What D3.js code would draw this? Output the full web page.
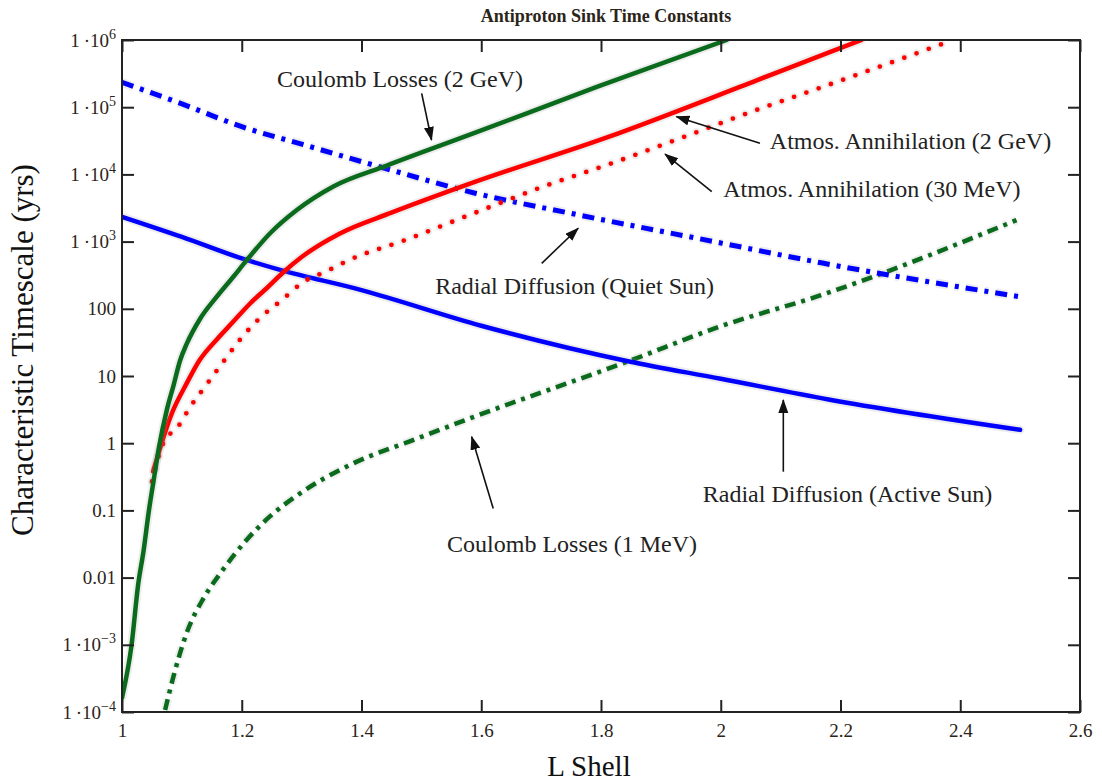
<!DOCTYPE html>
<html lang="en">
<head>
<meta charset="UTF-8">
<title>Antiproton Sink Time Constants</title>
<script src="https://d3js.org/d3.v7.min.js"></script>
<style>
  body { margin: 0; background: #fff; }
  svg text { font-family: "Liberation Serif", "DejaVu Serif", serif; }
  .tick text { font-size: 19px; fill: #2b2418; }
  .tick line { stroke: #222; stroke-width: 2px; }
  .note { font-size: 24px; fill: #222; }
</style>
</head>
<body>
<svg id="chart" width="1102" height="782"></svg>
<script>
// timescales in years vs L shell
const lActive = [1.0, 1.1, 1.2, 1.264, 1.4, 1.6, 1.845, 2.0, 2.18, 2.5];
const tActive = [2340, 1175, 562, 380, 190, 56, 16.6, 9.1, 4.47, 1.58];

const lQuiet = [1.0, 1.1, 1.2, 1.3, 1.43, 1.59, 1.75, 2.0, 2.17, 2.5];
const tQuiet = [234000, 112000, 51300, 28200, 13000, 5250, 2630, 955, 479, 151];

const lCoul2GeV = [1.0, 1.016, 1.027, 1.036, 1.045, 1.052, 1.062, 1.075, 1.086, 1.097, 1.108, 1.13, 1.158, 1.186, 1.208, 1.247, 1.292, 1.353, 1.442, 1.59, 1.793, 2.01];
const tCoul2GeV = [1.62e-4, 1.0e-3, 7.9e-3, 0.025, 0.1, 0.25, 0.89, 3.16, 7.2, 17, 30, 70, 150, 300, 525, 1320, 2950, 6610, 13500, 41700, 200000, 1e6];

const lAtm2GeV = [1.052, 1.083, 1.108, 1.13, 1.158, 1.186, 1.214, 1.242, 1.269, 1.30, 1.364, 1.45, 1.587, 1.81, 2.06, 2.182, 2.235];
const tAtm2GeV = [0.38, 2.75, 7.76, 17.4, 34.7, 64.6, 120, 204, 347, 589, 1320, 2690, 7590, 35500, 251000, 661000, 1e6];

const lAtm30MeV = [1.05, 1.069, 1.094, 1.114, 1.141, 1.169, 1.197, 1.23, 1.267, 1.303, 1.342, 1.378, 1.475, 1.587, 1.698, 1.826, 1.921, 2.06, 2.17, 2.388];
const tAtm30MeV = [0.269, 1.0, 1.78, 3.47, 7.41, 16.2, 34.7, 72.4, 135, 251, 363, 525, 1070, 2630, 6310, 15500, 31600, 91200, 200000, 1e6];

const lCoul1MeV = [1.072, 1.086, 1.108, 1.136, 1.164, 1.208, 1.247, 1.297, 1.386, 1.487, 1.59, 1.846, 2.0, 2.166, 2.494];
const tCoul1MeV = [1.07e-4, 3.39e-4, 1.5e-3, 4.9e-3, 0.0115, 0.0363, 0.0813, 0.178, 0.5, 1.12, 2.51, 16.6, 55, 158, 2090];

const xTicks = [1, 1.2, 1.4, 1.6, 1.8, 2, 2.2, 2.4, 2.6];
const xTickLabels = ["1", "1.2", "1.4", "1.6", "1.8", "2", "2.2", "2.4", "2.6"];
const yTicks = [1e-4, 1e-3, 0.01, 0.1, 1, 10, 100, 1e3, 1e4, 1e5, 1e6];
const yTickLabels = ["1\u2009·10^\u22124", "1\u2009·10^\u22123", "0.01", "0.1", "1", "10", "100",
                     "1\u2009·10^3", "1\u2009·10^4", "1\u2009·10^5", "1\u2009·10^6"];

// annotation text / arrow positions in data units [L, yrs]
const noteText = ["Coulomb Losses (2 GeV)", "Atmos. Annihilation (2 GeV)", "Atmos. Annihilation (30 MeV)",
                  "Radial Diffusion (Quiet Sun)", "Radial Diffusion (Active Sun)", "Coulomb Losses (1 MeV)"];
const noteAt = [[1.259, 2.0e5], [2.082, 23900], [2.004, 4610], [1.523, 166], [1.970, 0.133], [1.543, 0.024]];
const arrowFrom = [[1.5005, 1.61e5], [2.0655, 29000], [1.985, 5530], [1.701, 475], [2.1045, 0.377], [1.620, 0.107]];
const arrowTo = [[1.517, 32500], [1.926, 72300], [1.907, 20100], [1.762, 1580], [2.1045, 4.4], [1.584, 1.25]];

const svg = d3.select("#chart");
const plotLeft = 122, plotRight = 1080, plotTop = 40, plotBottom = 712;

const x = d3.scaleLinear().domain([1, 2.6]).range([plotLeft, plotRight]);
const y = d3.scaleLog().domain([1e-4, 1e6]).range([plotBottom, plotTop]);

svg.append("rect").attr("width", 1102).attr("height", 782).attr("fill", "#fff");

const defs = svg.append("defs");
defs.append("clipPath").attr("id", "plot")
    .append("rect").attr("x", plotLeft).attr("y", plotTop)
    .attr("width", plotRight - plotLeft).attr("height", plotBottom - plotTop);

const marker = defs.append("marker")
    .attr("id", "head")
    .attr("markerUnits", "userSpaceOnUse")
    .attr("markerWidth", 14).attr("markerHeight", 12)
    .attr("refX", 13).attr("refY", 5)
    .attr("orient", "auto");
marker.append("path").attr("d", "M0,0 L14,5 L0,10 Z").attr("fill", "#111");

const series = [
    { l: lCoul1MeV, t: tCoul1MeV, color: "#0b6b1d", width: 4.5, dash: "11,6,4,6", cap: "butt" },
    { l: lQuiet, t: tQuiet, color: "#0000ff", width: 5, dash: "12,7,4,7", cap: "butt" },
    { l: lActive, t: tActive, color: "#0000ff", width: 4.5, dash: null, cap: "round" },
    { l: lAtm30MeV, t: tAtm30MeV, color: "#ff0000", width: 4.8, dash: "0,13", cap: "round" },
    { l: lAtm2GeV, t: tAtm2GeV, color: "#ff0000", width: 4.5, dash: null, cap: "round" },
    { l: lCoul2GeV, t: tCoul2GeV, color: "#0b6b1d", width: 4.5, dash: null, cap: "round" }
];

const line = d3.line()
    .x(d => x(d[0]))
    .y(d => y(d[1]))
    .curve(d3.curveMonotoneX);

const plot = svg.append("g").attr("clip-path", "url(#plot)");

series.forEach(s => {
    const pts = s.l.map((v, i) => [v, s.t[i]]);
    // soft grey halo like the original screenshot
    plot.append("path")
        .attr("d", line(pts))
        .attr("fill", "none")
        .attr("stroke", "#999")
        .attr("stroke-opacity", 0.18)
        .attr("stroke-width", s.width + 4)
        .attr("stroke-dasharray", s.dash)
        .attr("stroke-linecap", s.cap);
    plot.append("path")
        .attr("d", line(pts))
        .attr("fill", "none")
        .attr("stroke", s.color)
        .attr("stroke-width", s.width)
        .attr("stroke-dasharray", s.dash)
        .attr("stroke-linecap", s.cap);
});

// frame and inward ticks on all sides
svg.append("g").attr("transform", `translate(0,${plotBottom})`)
    .call(d3.axisBottom(x).tickValues(xTicks).tickFormat((d, i) => xTickLabels[i])
        .tickSizeInner(-12).tickSizeOuter(0).tickPadding(12))
    .call(g => g.select(".domain").remove());

svg.append("g").attr("transform", `translate(0,${plotTop})`)
    .call(d3.axisTop(x).tickValues(xTicks).tickFormat("").tickSizeInner(-12).tickSizeOuter(0))
    .call(g => g.select(".domain").remove());

const yAxis = svg.append("g").attr("transform", `translate(${plotLeft},0)`)
    .call(d3.axisLeft(y).tickValues(yTicks).tickSizeInner(-12).tickSizeOuter(0).tickPadding(6))
    .call(g => g.select(".domain").remove());

yAxis.selectAll(".tick text").each(function(d, i) {
    const t = d3.select(this).text(null);
    const parts = yTickLabels[i].split("^");
    t.append("tspan").text(parts[0]);
    if (parts.length > 1) {
        t.append("tspan").attr("dy", -8).style("font-size", "14px").text(parts[1]);
    }
});

svg.append("g").attr("transform", `translate(${plotRight},0)`)
    .call(d3.axisRight(y).tickValues(yTicks).tickFormat("").tickSizeInner(-12).tickSizeOuter(0))
    .call(g => g.select(".domain").remove());

svg.append("rect")
    .attr("x", plotLeft).attr("y", plotTop)
    .attr("width", plotRight - plotLeft).attr("height", plotBottom - plotTop)
    .attr("fill", "none").attr("stroke", "#222").attr("stroke-width", 2);

// annotations
noteText.forEach((txt, i) => {
    svg.append("text").attr("class", "note")
        .attr("x", x(noteAt[i][0])).attr("y", y(noteAt[i][1]))
        .text(txt);
    svg.append("line")
        .attr("x1", x(arrowFrom[i][0])).attr("y1", y(arrowFrom[i][1]))
        .attr("x2", x(arrowTo[i][0])).attr("y2", y(arrowTo[i][1]))
        .attr("stroke", "#111").attr("stroke-width", 1.6)
        .attr("marker-end", "url(#head)");
});

// titles
svg.append("text")
    .attr("x", 606).attr("y", 22)
    .attr("text-anchor", "middle")
    .style("font-size", "18px").style("font-weight", "bold").attr("fill", "#2b2418")
    .text("Antiproton Sink Time Constants");

svg.append("text")
    .attr("transform", "translate(33,350) rotate(-90)")
    .attr("text-anchor", "middle")
    .style("font-size", "31px").attr("fill", "#111")
    .text("Characteristic Timescale (yrs)");

svg.append("text")
    .attr("x", 589).attr("y", 776)
    .attr("text-anchor", "middle")
    .style("font-size", "29px").attr("fill", "#111")
    .text("L Shell");
</script>
</body>
</html>
